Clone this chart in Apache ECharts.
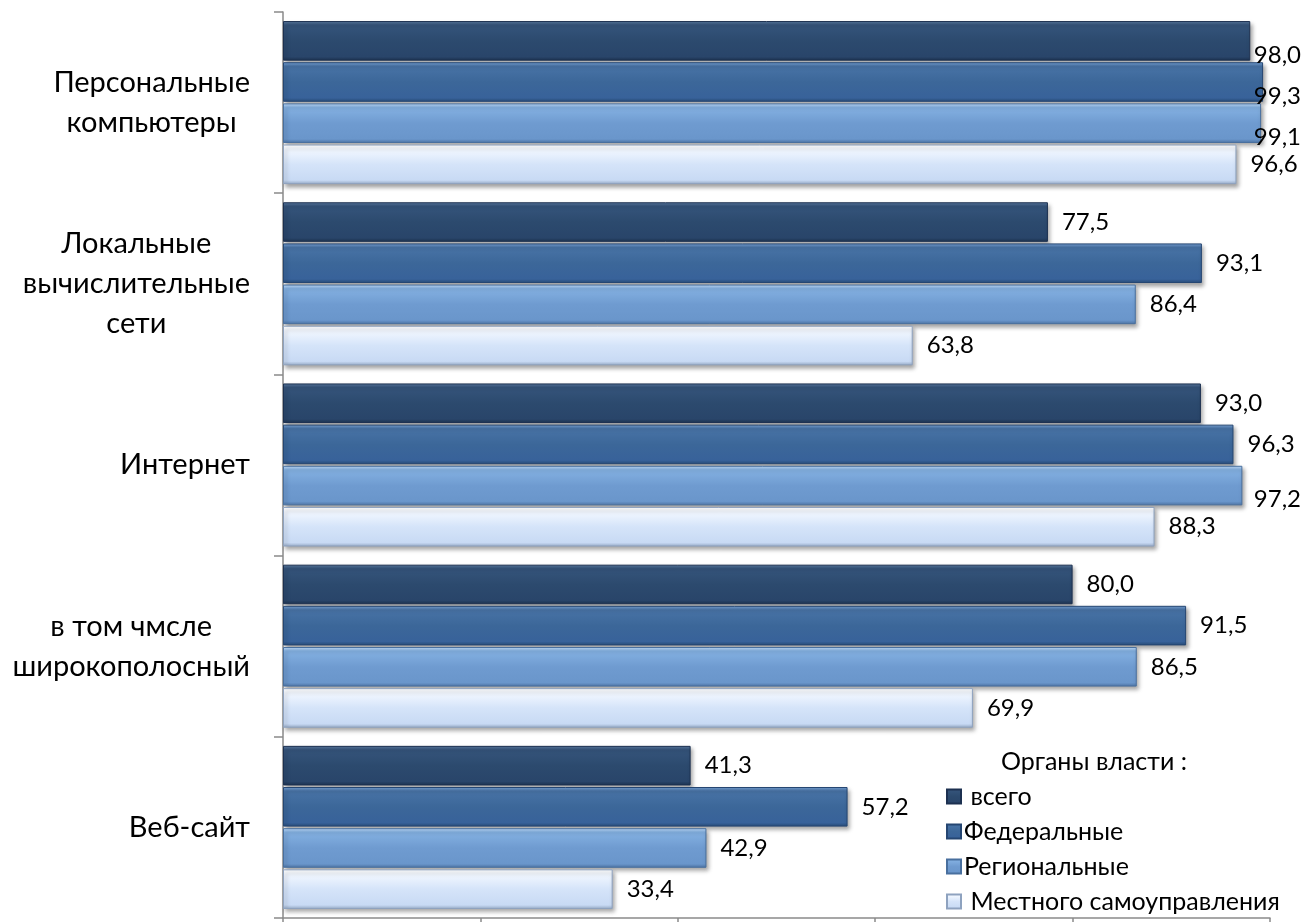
<!DOCTYPE html>
<html>
<head>
<meta charset="utf-8">
<script src="https://cdn.jsdelivr.net/npm/echarts@6/dist/echarts.min.js"></script>
<style>
html,body{margin:0;padding:0;background:#fff;}
#chart{width:1305px;height:922px;}
</style>
</head>
<body>
<div id="chart"></div>
<script>
const categories = [
  'Персональные\nкомпьютеры',
  'Локальные\nвычислительные\nсети',
  'Интернет',
  'в том чмсле\nширокополосный',
  'Веб-сайт'
];
const seriesNames = [' всего', 'Федеральные', 'Региональные', ' Местного самоуправления'];
const valuesTotal    = [98.0, 77.5, 93.0, 80.0, 41.3];
const valuesFederal  = [99.3, 93.1, 96.3, 91.5, 57.2];
const valuesRegional = [99.1, 86.4, 97.2, 86.5, 42.9];
const valuesLocal    = [96.6, 63.8, 88.3, 69.9, 33.4];
const legendTitle = 'Органы власти :';
const xTicks = [0, 20, 40, 60, 80, 100];

const FONT = 'Lato, Carlito, "Open Sans", sans-serif';

function grad(stops) {
  return new echarts.graphic.LinearGradient(0, 0, 0, 1,
    stops.map(s => ({offset: s[0], color: s[1]})));
}
const styles = [
  {color: grad([[0,'#5a7aa0'],[0.1,'#35547b'],[0.5,'#2c4a6e'],[0.9,'#29456a'],[1,'#1d3350']]), border: '#1c3050'},
  {color: grad([[0,'#7aa5d8'],[0.1,'#4873a6'],[0.5,'#3c6799'],[0.9,'#38629a'],[1,'#284c78']]), border: '#254672'},
  {color: grad([[0,'#c2defc'],[0.1,'#84b1e2'],[0.5,'#6f9bd0'],[0.9,'#6a96cb'],[1,'#4e75a6']]), border: '#486f9e'},
  {color: grad([[0,'#ffffff'],[0.15,'#f0f6ff'],[0.5,'#d5e4f9'],[0.9,'#c8daf4'],[1,'#98acc8'] ]), border: '#8ea2bf'}
];
const allValues = [valuesTotal, valuesFederal, valuesRegional, valuesLocal];

const chart = echarts.init(document.getElementById('chart'));
const option = {
  animation: false,
  backgroundColor: '#ffffff',
  title: {
    text: legendTitle,
    left: 996, top: 744,
    textStyle: {fontFamily: FONT, fontSize: 25, fontWeight: 'normal', color: '#000'}
  },
  legend: {
    orient: 'vertical',
    left: 946, top: 784, height: 140, padding: 0,
    itemWidth: 14, itemHeight: 14, itemGap: 10,
    icon: 'rect',
    data: seriesNames,
    textStyle: {fontFamily: FONT, fontSize: 25, color: '#000', padding: [0,0,0,-2]}
  },
  grid: {left: 283, right: 35, top: 12, bottom: 4, containLabel: false},
  xAxis: {
    type: 'value', min: 0, max: 100, interval: 20,
    axisLine: {show: true, lineStyle: {color: '#8a8a8a', width: 1.5}},
    axisTick: {show: true, length: 5, lineStyle: {color: '#8a8a8a', width: 1.5}},
    axisLabel: {show: false},
    splitLine: {show: false}
  },
  yAxis: {
    type: 'category', data: categories, inverse: true,
    axisLine: {show: true, lineStyle: {color: '#8a8a8a', width: 1.5}},
    axisTick: {show: true, length: 9, lineStyle: {color: '#8a8a8a', width: 1.5}},
    axisLabel: {
      margin: 33, align: 'right',
      formatter: v => v.split('\n').map(l => '{c|' + l + '}').join('\n'),
      rich: {c: {fontFamily: FONT, fontSize: 29, color: '#000', align: 'center', lineHeight: 40}}
    }
  },
  series: seriesNames.map((n, i) => ({
    name: n, type: 'bar',
    data: allValues[i],
    barCategoryGap: '10%', barGap: '4%',
    itemStyle: {
      color: styles[i].color, borderColor: styles[i].border, borderWidth: 1,
      shadowColor: 'rgba(0,0,0,0.35)', shadowBlur: 4, shadowOffsetX: 2, shadowOffsetY: 3
    },
    label: {
      show: true, position: 'right', distance: 14, offset: [0, 2],
      fontFamily: FONT, fontSize: 24, color: '#000',
      formatter: p => p.value.toFixed(1).replace('.', ',')
    }
  })),
  labelLayout: function (params) {
    const r = params.labelRect;
    if (r.x + r.width > 1301) {
      return {x: 1301 - r.width};
    }
    return {};
  }
};
chart.setOption(option);
</script>
</body>
</html>
